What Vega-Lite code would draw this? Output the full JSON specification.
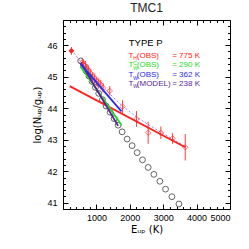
{
  "$schema": "https://vega.github.io/schema/vega-lite/v6.json",
  "width": 167,
  "height": 189,
  "autosize": "none",
  "padding": {"left": 63, "top": 20, "right": 19, "bottom": 40},
  "title": {"text": "TMC1", "fontSize": 12, "fontWeight": "normal", "font": "Liberation Sans", "color": "#222222", "offset": 5},
  "config": {
    "view": {"stroke": "black", "strokeWidth": 1},
    "axis": {"grid": false, "domain": false, "tickColor": "black", "labelColor": "black", "labelFont": "Liberation Sans", "labelFontSize": 9, "titleFont": "DejaVu Sans", "titleFontSize": 10, "titleFontWeight": "normal", "titleColor": "black"},
    "text": {"font": "Liberation Sans"}
  },
  "datasets": {
    "obs": [
      {"x": 580, "y": 45.45, "lo": 45.3, "hi": 45.6},
      {"x": 620, "y": 45.38, "lo": 45.23, "hi": 45.53},
      {"x": 670, "y": 45.35, "lo": 45.2, "hi": 45.5},
      {"x": 720, "y": 45.25, "lo": 45.1, "hi": 45.4},
      {"x": 770, "y": 45.2, "lo": 45.05, "hi": 45.35},
      {"x": 830, "y": 45.1, "lo": 44.95, "hi": 45.25},
      {"x": 890, "y": 45.0, "lo": 44.85, "hi": 45.15},
      {"x": 950, "y": 44.95, "lo": 44.8, "hi": 45.1},
      {"x": 1010, "y": 44.85, "lo": 44.7, "hi": 45.0},
      {"x": 1070, "y": 44.8, "lo": 44.65, "hi": 44.95},
      {"x": 1130, "y": 44.75, "lo": 44.6, "hi": 44.9},
      {"x": 1200, "y": 44.65, "lo": 44.5, "hi": 44.8},
      {"x": 1400, "y": 44.55, "lo": 44.4, "hi": 44.7},
      {"x": 1782, "y": 44.05, "lo": 43.85, "hi": 44.25},
      {"x": 2200, "y": 43.66, "lo": 43.41, "hi": 43.91},
      {"x": 2550, "y": 43.22, "lo": 42.87, "hi": 43.57},
      {"x": 2930, "y": 43.22, "lo": 43.02, "hi": 43.42},
      {"x": 3280, "y": 43.04, "lo": 42.87, "hi": 43.21},
      {"x": 3660, "y": 42.76, "lo": 42.34, "hi": 43.18}
    ],
    "filled": [{"x": 252, "y": 45.82, "lo": 45.7, "hi": 45.94}],
    "model": [
      {"x": 530, "y": 45.5}, {"x": 610, "y": 45.35}, {"x": 690, "y": 45.19}, {"x": 780, "y": 45.02},
      {"x": 870, "y": 44.85}, {"x": 970, "y": 44.66}, {"x": 1070, "y": 44.47}, {"x": 1180, "y": 44.27},
      {"x": 1290, "y": 44.07}, {"x": 1410, "y": 43.87}, {"x": 1530, "y": 43.67}, {"x": 1650, "y": 43.46},
      {"x": 1770, "y": 43.25}, {"x": 1920, "y": 43.02}, {"x": 2070, "y": 42.81}, {"x": 2220, "y": 42.59},
      {"x": 2380, "y": 42.36}, {"x": 2550, "y": 42.12}, {"x": 2720, "y": 41.9}, {"x": 2900, "y": 41.68},
      {"x": 3070, "y": 41.43}, {"x": 3260, "y": 41.19}, {"x": 3470, "y": 40.96}
    ],
    "fits": [
      {"s": "H", "x": 200, "y": 44.7}, {"s": "H", "x": 3660, "y": 42.76},
      {"s": "WC", "x": 530, "y": 45.32}, {"s": "WC", "x": 1750, "y": 43.47},
      {"s": "MODEL", "x": 530, "y": 45.45}, {"s": "MODEL", "x": 1650, "y": 43.44},
      {"s": "W", "x": 530, "y": 45.4}, {"s": "W", "x": 1750, "y": 43.9}
    ],
    "dots": [
      {"x": 252, "y": 45.85}, {"x": 580, "y": 45.42}, {"x": 1000, "y": 44.9}, {"x": 1400, "y": 44.45},
      {"x": 1800, "y": 44.05}, {"x": 2200, "y": 43.72}, {"x": 2600, "y": 43.45}, {"x": 3000, "y": 43.2},
      {"x": 3660, "y": 42.78}
    ],
    "head": [{"t": "TYPE P", "x": 1970, "y": 46.06}],
    "leg": [
      {"t": "T", "x": 1960, "y": 45.66, "s": "H"}, {"t": "(OBS)", "x": 2210, "y": 45.66, "s": "H"}, {"t": "= 775 K", "x": 3270, "y": 45.66, "s": "H"},
      {"t": "T", "x": 1960, "y": 45.37, "s": "WC"}, {"t": "(OBS)", "x": 2210, "y": 45.37, "s": "WC"}, {"t": "= 290 K", "x": 3270, "y": 45.37, "s": "WC"},
      {"t": "T", "x": 1960, "y": 45.05, "s": "W"}, {"t": "(OBS)", "x": 2210, "y": 45.05, "s": "W"}, {"t": "= 362 K", "x": 3270, "y": 45.05, "s": "W"},
      {"t": "T", "x": 1960, "y": 44.77, "s": "MODEL"}, {"t": "(MODEL)", "x": 2210, "y": 44.77, "s": "MODEL"}, {"t": "= 238 K", "x": 3270, "y": 44.77, "s": "MODEL"}
    ],
    "sub": [
      {"t": "H", "x": 2100, "y": 45.6, "s": "H"},
      {"t": "W", "x": 2100, "y": 45.29, "s": "WC"},
      {"t": "C", "x": 2100, "y": 45.45, "s": "WC"},
      {"t": "W", "x": 2100, "y": 44.97, "s": "W"},
      {"t": "W", "x": 2100, "y": 44.69, "s": "MODEL"}
    ]
  },
  "resolve": {"axis": {"x": "independent", "y": "independent"}},
  "layer": [
    {
      "data": {"name": "model"},
      "mark": {"type": "point", "shape": "circle", "filled": false, "size": 34, "strokeWidth": 1, "color": "#222222"},
      "encoding": {
        "x": {"field": "x", "type": "quantitative", "scale": {"domain": [0, 5000], "nice": false, "zero": false},
          "axis": {"orient": "top", "values": [0, 1000, 2000, 3000, 4000, 5000], "labels": false, "tickSize": -5, "title": null}},
        "y": {"field": "y", "type": "quantitative", "scale": {"domain": [40.8, 46.8], "nice": false, "zero": false},
          "axis": {"orient": "right", "values": [41, 42, 43, 44, 45, 46], "labels": false, "tickSize": -5, "title": null}}
      }
    },
    {
      "data": {"name": "dots"},
      "mark": {"type": "line", "color": "#a77ee6", "strokeWidth": 1, "strokeDash": [2, 2]},
      "encoding": {
        "x": {"field": "x", "type": "quantitative", "axis": null},
        "y": {"field": "y", "type": "quantitative", "axis": null}
      }
    },
    {
      "data": {"name": "obs"},
      "mark": {"type": "rule", "color": "#ff3b3b", "strokeWidth": 1},
      "encoding": {
        "x": {"field": "x", "type": "quantitative",
          "axis": {"orient": "bottom", "values": [0, 1000, 2000, 3000, 4000, 5000], "format": "d", "labelExpr": "datum.value == 0 ? '' : datum.label", "tickSize": -5, "labelPadding": 9, "title": "Eᵤₚ (K)", "titlePadding": 2}},
        "y": {"field": "lo", "type": "quantitative",
          "axis": {"orient": "left", "values": [41, 42, 43, 44, 45, 46], "tickSize": -5, "labelPadding": 11, "title": "log(Nᵤₚ/gᵤₚ)", "titlePadding": 4}},
        "y2": {"field": "hi"}
      }
    },
    {
      "data": {"name": "obs"},
      "mark": {"type": "point", "shape": "diamond", "filled": false, "size": 30, "strokeWidth": 1, "color": "#ff3b3b"},
      "encoding": {
        "x": {"field": "x", "type": "quantitative",
          "axis": {"orient": "bottom", "values": [200, 400, 600, 800, 1200, 1400, 1600, 1800, 2200, 2400, 2600, 2800, 3200, 3400, 3600, 3800, 4200, 4400, 4600, 4800], "labels": false, "tickSize": -2.5, "title": null}},
        "y": {"field": "y", "type": "quantitative",
          "axis": {"orient": "left", "values": [40.8, 41.2, 41.4, 41.6, 41.8, 42.2, 42.4, 42.6, 42.8, 43.2, 43.4, 43.6, 43.8, 44.2, 44.4, 44.6, 44.8, 45.2, 45.4, 45.6, 45.8, 46.2, 46.4, 46.6], "labels": false, "tickSize": -2.5, "title": null}}
      }
    },
    {
      "data": {"name": "fits"},
      "mark": {"type": "line", "strokeWidth": 1.8},
      "encoding": {
        "x": {"field": "x", "type": "quantitative",
          "axis": {"orient": "top", "values": [200, 400, 600, 800, 1200, 1400, 1600, 1800, 2200, 2400, 2600, 2800, 3200, 3400, 3600, 3800, 4200, 4400, 4600, 4800], "labels": false, "tickSize": -2.5, "title": null}},
        "y": {"field": "y", "type": "quantitative",
          "axis": {"orient": "right", "values": [40.8, 41.2, 41.4, 41.6, 41.8, 42.2, 42.4, 42.6, 42.8, 43.2, 43.4, 43.6, 43.8, 44.2, 44.4, 44.6, 44.8, 45.2, 45.4, 45.6, 45.8, 46.2, 46.4, 46.6], "labels": false, "tickSize": -2.5, "title": null}},
        "color": {"field": "s", "type": "nominal", "legend": null,
          "scale": {"domain": ["H", "WC", "W", "MODEL", "k"], "range": ["#ff2020", "#22dd22", "#2a2aee", "#5a1f96", "#000000"]}},
        "detail": {"field": "s"}
      }
    },
    {
      "data": {"name": "filled"},
      "mark": {"type": "rule", "color": "#ff2020", "strokeWidth": 1},
      "encoding": {
        "x": {"field": "x", "type": "quantitative", "axis": null},
        "y": {"field": "lo", "type": "quantitative", "axis": null},
        "y2": {"field": "hi"}
      }
    },
    {
      "data": {"name": "filled"},
      "mark": {"type": "point", "shape": "diamond", "filled": true, "size": 34, "color": "#ff2020", "opacity": 1},
      "encoding": {
        "x": {"field": "x", "type": "quantitative", "axis": null},
        "y": {"field": "y", "type": "quantitative", "axis": null}
      }
    },
    {
      "data": {"name": "head"},
      "mark": {"type": "text", "align": "left", "baseline": "middle", "fontSize": 9.5, "color": "black"},
      "encoding": {
        "x": {"field": "x", "type": "quantitative", "axis": null},
        "y": {"field": "y", "type": "quantitative", "axis": null},
        "text": {"field": "t"}
      }
    },
    {
      "data": {"name": "leg"},
      "mark": {"type": "text", "align": "left", "baseline": "middle", "fontSize": 8},
      "encoding": {
        "x": {"field": "x", "type": "quantitative", "axis": null},
        "y": {"field": "y", "type": "quantitative", "axis": null},
        "text": {"field": "t"},
        "color": {"field": "s", "type": "nominal", "legend": null}
      }
    },
    {
      "data": {"name": "sub"},
      "mark": {"type": "text", "align": "left", "baseline": "middle", "fontSize": 5},
      "encoding": {
        "x": {"field": "x", "type": "quantitative", "axis": null},
        "y": {"field": "y", "type": "quantitative", "axis": null},
        "text": {"field": "t"},
        "color": {"field": "s", "type": "nominal", "legend": null}
      }
    }
  ]
}
